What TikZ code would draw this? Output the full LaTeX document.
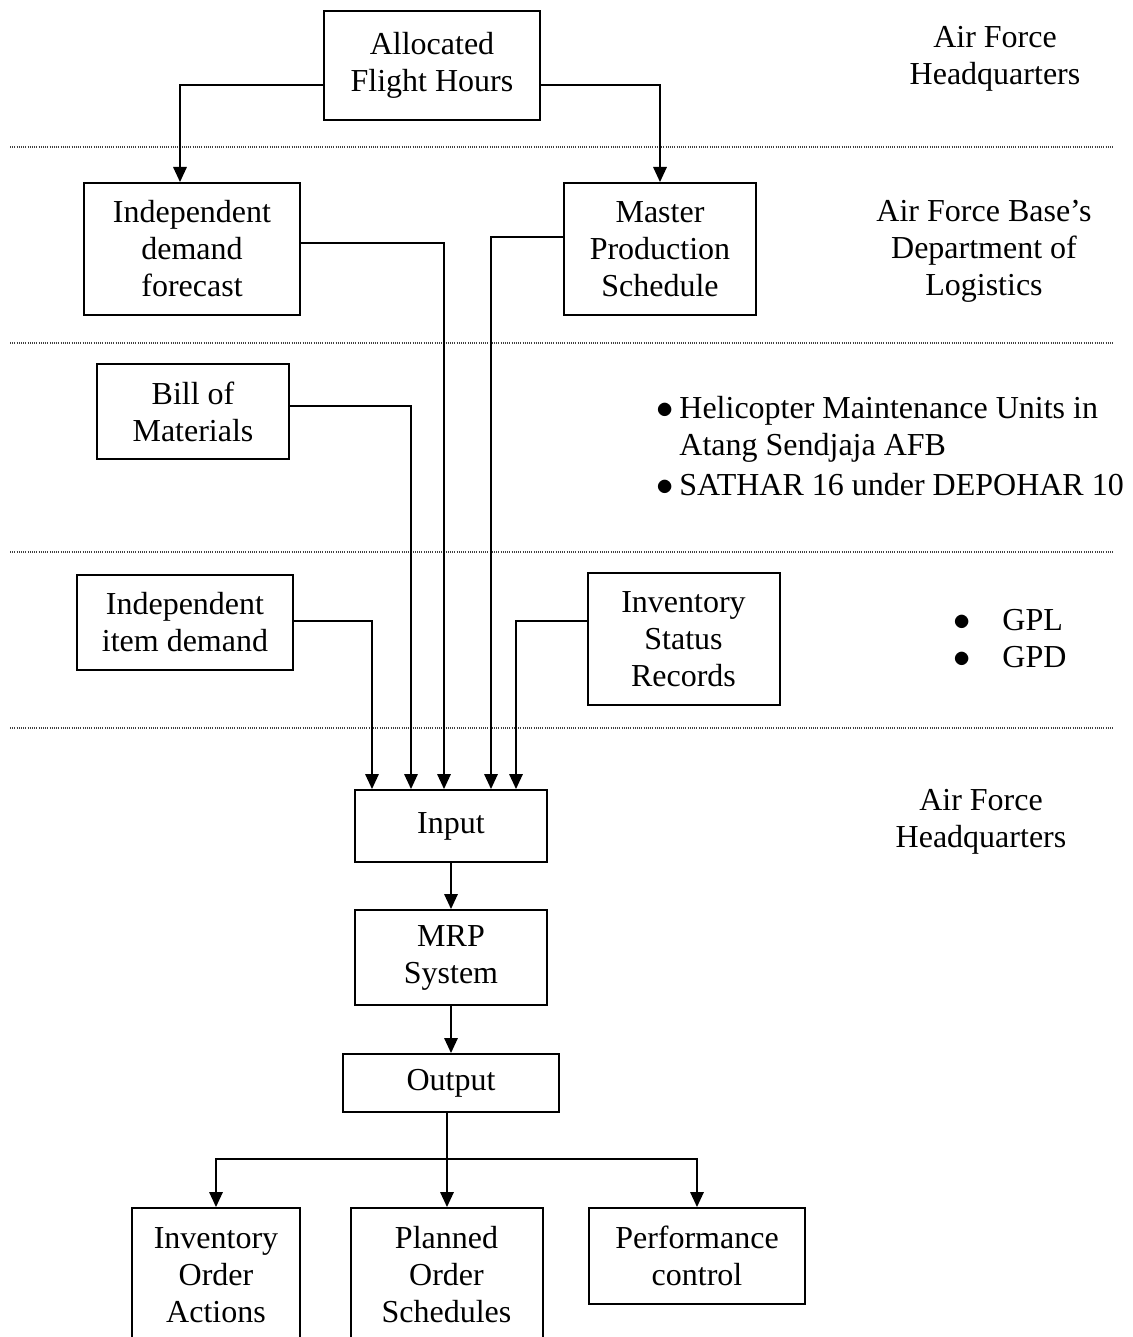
\documentclass[tikz,border=0pt]{standalone}
\usepackage{fontspec}
\setmainfont{Liberation Serif}
\usepackage{tikz}
\usetikzlibrary{arrows.meta}

\begin{document}
\begin{tikzpicture}[
  x=50pt, y=50pt,
  every node/.style={font=\fontsize{16}{18.5}\selectfont},
  box/.style={draw, line width=1pt, inner sep=0pt, align=center},
  wide/.style={box, minimum width=108pt},
  narrow/.style={box, minimum width=96pt},
  lbl/.style={align=center},
  list/.style={align=left, anchor=west, inner sep=0pt},
  arr/.style={-{Triangle[length=7.5pt,width=6.8pt]}, line width=0.65pt},
  sep/.style={line width=0.6pt, black!75, dash pattern=on 0.5pt off 0.6pt}
]
\useasboundingbox (0,0) rectangle (11.33,-13.37);

%% ---- LEVEL SEPARATORS ------------------------------------------
\foreach \y in {-1.47,-3.43,-5.52,-7.28}
  \draw[sep] (0.1,\y) -- (11.13,\y);

%% ---- HEADQUARTERS (top) ----------------------------------------
\node[wide, minimum height=54.5pt] (alloc) at (4.32, -0.655)
  {Allocated\\Flight Hours};
\node[lbl] (hqtop) at (9.95, -0.585) {Air Force\\Headquarters};

%% ---- BASE LOGISTICS ---------------------------------------------
\node[wide, minimum height=66pt]   (idf) at (1.92, -2.49)
  {Independent\\demand\\forecast};
\node[narrow, minimum height=66pt] (mps) at (6.60, -2.49)
  {Master\\Production\\Schedule};
\node[lbl] (base) at (9.84, -2.51)
  {Air Force Base's\\Department of\\Logistics};

\draw[arr] ([yshift=-9.75pt]alloc.west) -| ([xshift=-6pt]idf.north);
\draw[arr] ([yshift=-9.75pt]alloc.east) -| (mps.north);

%% ---- MAINTENANCE UNITS -----------------------------------------
\node[narrow, minimum height=47.5pt] (bom) at (1.93, -4.115)
  {Bill of\\Materials};
\node[list] (units) at (6.56, -4.465)
  {\makebox[11.5pt][l]{$\bullet$}Helicopter Maintenance Units in\\
   \hspace*{11.5pt}Atang Sendjaja AFB\\[1.5pt]
   \makebox[11.5pt][l]{$\bullet$}SATHAR 16 under DEPOHAR 10};

%% ---- GPL / GPD --------------------------------------------------
\node[wide, minimum height=47.5pt]  (iid) at (1.85, -6.225)
  {Independent\\item demand};
\node[narrow, minimum height=66pt]  (isr) at (6.835, -6.39)
  {Inventory\\Status\\Records};
\node[list] (gp) at (9.53, -6.39)
  {\makebox[24.5pt][l]{$\bullet$}GPL\\\makebox[24.5pt][l]{$\bullet$}GPD};

%% ---- MRP (HQ) ---------------------------------------------------
\node[narrow, minimum height=36pt]   (input)  at (4.51, -8.26)  {Input};
\node[narrow, minimum height=47.5pt] (mrp)    at (4.51, -9.575) {MRP\\System};
\node[wide, minimum height=29pt]     (output) at (4.51, -10.83) {Output};
\node[lbl] (hqlow) at (9.81, -8.22) {Air Force\\Headquarters};

\draw[arr] ([yshift=3pt]idf.east)    -| ([xshift=-3.5pt]input.north);
\draw[arr] ([yshift=6pt]mps.west)    -| ([xshift=20pt]input.north);
\draw[arr] ([yshift=2.75pt]bom.east) -| ([xshift=-20pt]input.north);
\draw[arr] ([yshift=0.75pt]iid.east) -| ([xshift=-39.5pt]input.north);
\draw[arr] ([yshift=9pt]isr.west)    -| ([xshift=32.5pt]input.north);

\draw[arr] (input) -- (mrp);
\draw[arr] (mrp)   -- (output);

%% ---- RESULTS ----------------------------------------------------
\node[box, minimum width=84pt, minimum height=67pt] (ioa) at (2.16, -12.75)
  {Inventory\\Order\\Actions};
\node[narrow, minimum height=67pt] (pos) at (4.465, -12.75)
  {Planned\\Order\\Schedules};
\node[wide, minimum height=48pt]   (pc)  at (6.97, -12.56)
  {Performance\\control};

\draw[arr] ([xshift=-2pt]output.south) -- ++(0,-0.46)
  node[coordinate] (fork) {}
  (fork) -| (ioa.north);
\draw[arr] (fork) -- (fork |- pos.north);
\draw[arr] (fork) -| (pc.north);

\end{tikzpicture}
\end{document}
